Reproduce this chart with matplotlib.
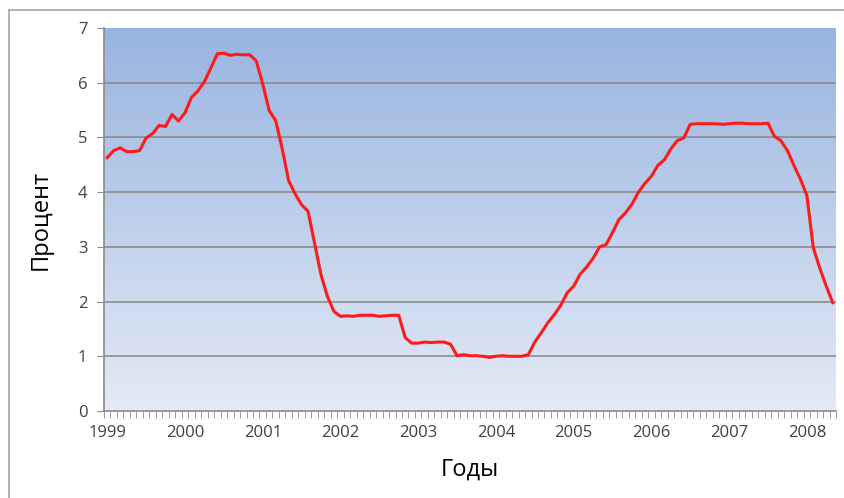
import numpy as np
import matplotlib.pyplot as plt
from matplotlib.colors import LinearSegmentedColormap
from matplotlib.patches import Rectangle

# monthly rate, Jan 1999 .. May 2008
rate_1999 = [4.63, 4.76, 4.81, 4.74, 4.74, 4.76, 4.99, 5.07, 5.22, 5.20, 5.42, 5.30]
rate_2000 = [5.45, 5.73, 5.85, 6.02, 6.27, 6.53, 6.54, 6.50, 6.52, 6.51, 6.51, 6.40]
rate_2001 = [5.98, 5.49, 5.31, 4.80, 4.21, 3.97, 3.77, 3.65, 3.07, 2.49, 2.09, 1.82]
rate_2002 = [1.73, 1.74, 1.73, 1.75, 1.75, 1.75, 1.73, 1.74, 1.75, 1.75, 1.34, 1.24]
rate_2003 = [1.24, 1.26, 1.25, 1.26, 1.26, 1.22, 1.01, 1.03, 1.01, 1.01, 1.00, 0.98]
rate_2004 = [1.00, 1.01, 1.00, 1.00, 1.00, 1.03, 1.26, 1.43, 1.61, 1.76, 1.93, 2.16]
rate_2005 = [2.28, 2.50, 2.63, 2.79, 3.00, 3.04, 3.26, 3.50, 3.62, 3.78, 4.00, 4.16]
rate_2006 = [4.29, 4.49, 4.59, 4.79, 4.94, 4.99, 5.24, 5.25, 5.25, 5.25, 5.25, 5.24]
rate_2007 = [5.25, 5.26, 5.26, 5.25, 5.25, 5.25, 5.26, 5.02, 4.94, 4.76, 4.49, 4.24]
rate_2008 = [3.94, 2.98, 2.61, 2.28, 1.98]
years = ['1999', '2000', '2001', '2002', '2003', '2004', '2005', '2006', '2007', '2008']

rates = (rate_1999 + rate_2000 + rate_2001 + rate_2002 + rate_2003 + rate_2004
         + rate_2005 + rate_2006 + rate_2007 + rate_2008)
n = len(rates)
x = np.arange(n)

plt.rcParams['font.family'] = ['Open Sans', 'DejaVu Sans']

fig = plt.figure(figsize=(8.45, 4.98), dpi=100)
ax = fig.add_axes([104/845, 1 - 411/498, 732/845, 383/498])

# outer frame
fig.patches.append(Rectangle((9/845, -0.1), 1.2, 1 - 10/498 + 0.1, transform=fig.transFigure,
                             fill=False, edgecolor='#a6a6a6', lw=1.2))

# gradient background
cmap = LinearSegmentedColormap.from_list('bg', ['#e4eaf6', '#98b4e0'])
grad = np.linspace(0, 1, 256).reshape(-1, 1)
ax.imshow(grad, cmap=cmap, aspect='auto', origin='lower',
          extent=[-0.5, n - 0.5, 0, 7], zorder=0)

for yv in range(1, 7):
    ax.axhline(yv, color='#8c8c8c', lw=1.2, zorder=1)

ax.plot(x, rates, color='#ff1a1a', lw=2.2, zorder=3)

ax.set_xlim(-0.5, n - 0.5)
ax.set_ylim(0, 7)
ax.set_yticks(range(8))
ax.set_xticks([12 * i for i in range(len(years))])
ax.set_xticklabels(years)
ax.set_xticks(np.arange(n + 1) - 0.5, minor=True)
ax.tick_params(axis='x', which='major', length=0, pad=10, labelsize=12, labelcolor='#404040')
ax.tick_params(axis='x', which='minor', length=5, color='#8c8c8c', direction='out')
ax.tick_params(axis='y', length=5, color='#8c8c8c', pad=7, labelsize=12, labelcolor='#404040')

for side in ['top', 'right']:
    ax.spines[side].set_visible(False)
for side in ['left', 'bottom']:
    ax.spines[side].set_color('#8c8c8c')
    ax.spines[side].set_linewidth(1.2)

ax.set_ylabel('Процент', fontsize=17, labelpad=18)
ax.set_xlabel('Годы', fontsize=17, labelpad=12)

fig.savefig('out.png', dpi=100)
